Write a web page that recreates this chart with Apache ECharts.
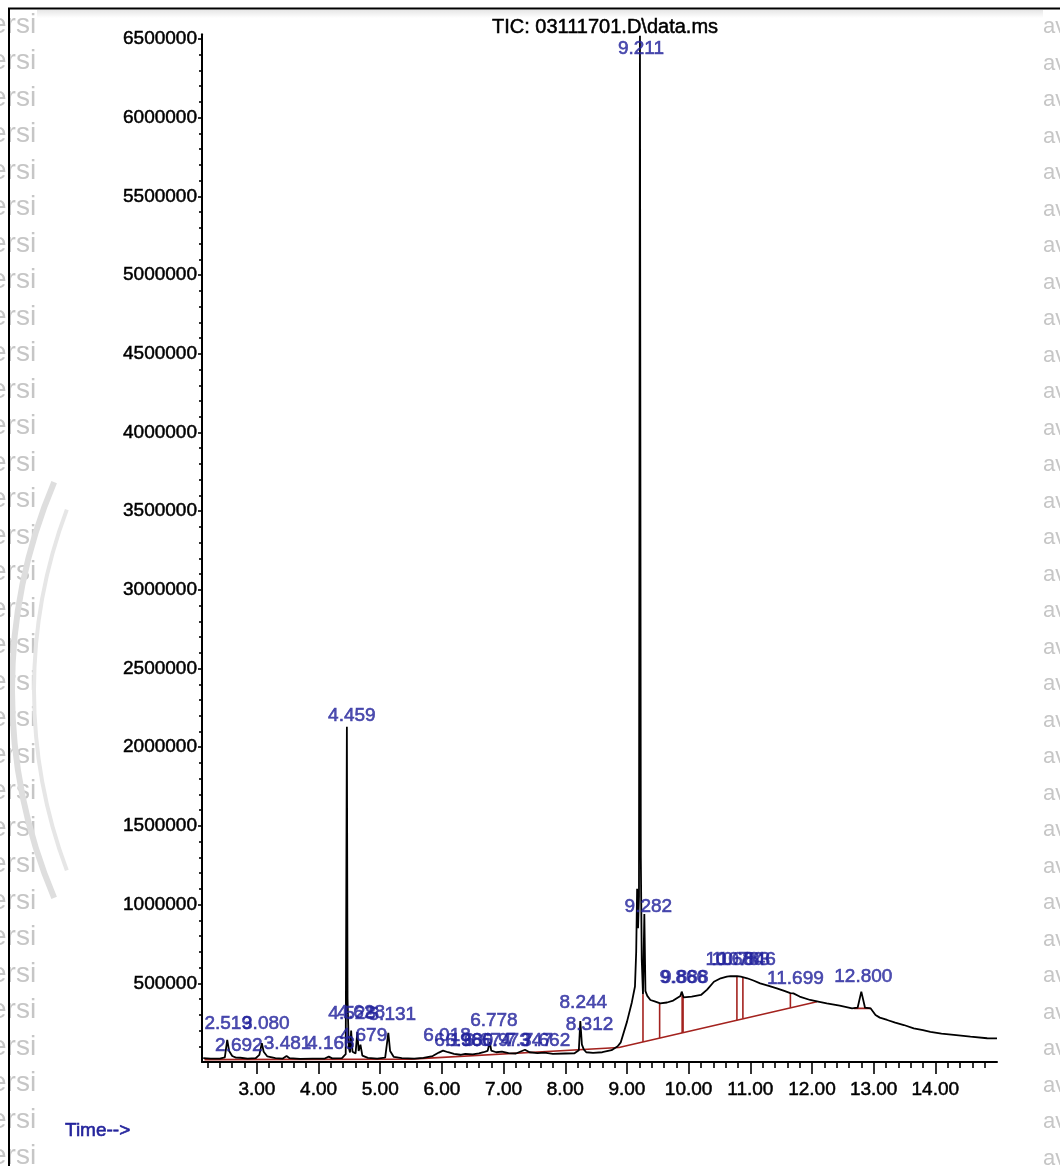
<!DOCTYPE html>
<html>
<head>
<meta charset="utf-8">
<script src="https://cdn.jsdelivr.net/npm/echarts@6/dist/echarts.min.js"></script>
<style>
  html, body { margin: 0; padding: 0; background: #fff; }
  #chart { width: 1060px; height: 1166px; }
</style>
</head>
<body>
<div id="chart"></div>
<script>
// ---- TIC trace: retention time (min) / abundance ----
const rt = [
  2.13, 2.25, 2.40, 2.48, 2.519, 2.55, 2.60, 2.66, 2.692, 2.73, 2.85, 2.98,
  3.04, 3.080, 3.11, 3.17, 3.30, 3.42, 3.481, 3.53, 3.70, 3.90, 4.10, 4.166,
  4.22, 4.38, 4.44, 4.459, 4.47, 4.49, 4.51, 4.528, 4.55, 4.60, 4.628, 4.65,
  4.679, 4.71, 4.80, 4.95, 5.08, 5.131, 5.16, 5.22, 5.35, 5.55, 5.70, 5.85,
  5.95, 6.018, 6.10, 6.196, 6.30, 6.380, 6.50, 6.60, 6.674, 6.74, 6.778, 6.80,
  6.88, 6.973, 7.08, 7.20, 7.347, 7.42, 7.55, 7.662, 7.80, 8.00, 8.15, 8.22,
  8.244, 8.27, 8.30, 8.312, 8.34, 8.45, 8.60, 8.75, 8.85, 8.90, 9.00, 9.08,
  9.13, 9.15, 9.165, 9.18, 9.195, 9.211, 9.225, 9.24, 9.26, 9.282, 9.30, 9.33,
  9.38, 9.45, 9.54, 9.65, 9.75, 9.866, 9.888, 9.92, 10.05, 10.20, 10.30, 10.41,
  10.52, 10.62, 10.680, 10.783, 10.846, 10.95, 11.05, 11.16, 11.30, 11.43, 11.55, 11.65,
  11.699, 11.80, 11.97, 12.10, 12.24, 12.45, 12.65, 12.74, 12.800, 12.86, 12.95, 13.03,
  13.10, 13.22, 13.35, 13.49, 13.65, 13.80, 13.92, 14.10, 14.30, 14.57, 14.84, 15.00
];
const tic = [
  25000, 22000, 21000, 30000, 140000, 70000, 38000, 28000, 40000, 27000, 22000, 24000,
  45000, 120000, 65000, 35000, 24000, 22000, 38000, 24000, 20000, 21000, 22000, 34000,
  23000, 24000, 50000, 2130000, 400000, 90000, 60000, 200000, 65000, 55000, 190000, 70000,
  110000, 40000, 26000, 22000, 28000, 185000, 70000, 32000, 24000, 22000, 26000, 38000,
  60000, 72000, 62000, 52000, 46000, 52000, 48000, 55000, 62000, 70000, 125000, 72000,
  62000, 66000, 56000, 54000, 78000, 62000, 56000, 60000, 52000, 54000, 55000, 75000,
  260000, 110000, 80000, 88000, 62000, 58000, 62000, 75000, 100000, 125000, 255000, 380000,
  480000, 700000, 1100000, 850000, 1050000, 6520000, 1300000, 650000, 430000, 940000, 450000, 420000,
  394000, 385000, 373000, 378000, 390000, 420000, 447000, 410000, 415000, 426000, 460000, 510000,
  532000, 542000, 545000, 546000, 542000, 532000, 518000, 500000, 484000, 468000, 452000, 438000,
  436000, 416000, 394000, 384000, 373000, 358000, 341000, 345000, 447000, 345000, 341000, 299000,
  282000, 267000, 250000, 235000, 214000, 202000, 192000, 180000, 172000, 161000, 151000, 150000
];

// ---- integrated peaks (retention times) ----
const peakRt = [
  2.519, 2.692, 3.080, 3.481, 4.166, 4.459, 4.528, 4.628, 4.679, 5.131,
  6.018, 6.196, 6.380, 6.674, 6.778, 6.973, 7.347, 7.662, 8.244, 8.312,
  9.211, 9.282, 9.866, 9.888, 10.680, 10.783, 10.846, 11.699, 12.800
];

// ---- integration baseline (null = break) ----
const baseRt  = [2.15, 5.50, 8.87, 12.08, null, 12.68, 12.95];
const baseTic = [15000, 18000, 92000, 383000, null, 341000, 341000];

// ---- drop lines at peak boundaries ----
const dropRt   = [9.26, 9.53, 9.895, 9.91, 10.783, 10.88, 11.65];
const dropBase = [127000, 152000, 185000, 186000, 266000, 275000, 344000];
const dropTop  = [430000, 373000, 440000, 420000, 546000, 539000, 438000];

// ---- axis ticks ----
const xTickLabels = [3, 4, 5, 6, 7, 8, 9, 10, 11, 12, 13, 14];
const yTickLabels = [500000, 1000000, 1500000, 2000000, 2500000, 3000000, 3500000,
                     4000000, 4500000, 5000000, 5500000, 6000000, 6500000];

// ---- layout / style ----
const FONT = "'Liberation Sans', Arial, sans-serif";
const LABEL_BLUE = '#24249c';
const BASE_RED = '#a3221e';
// label placement relative to each peak apex, px [dx, dy]
const labelOffset = [
  [1, -16], [1, -10], [4, -19], [1, -12], [2, -13], [5, -11], [1, -17], [4, -19], [3, -9], [4, -18],
  [4, -15], [4, -13], [4, -13], [4, -11], [4, -22], [4, -11], [4, -9], [2, -12], [3, -18], [5, -23],
  [1, 13], [4, -7], [3, -18], [3, -14], [4, -16], [4, -16], [6, -17], [2, -15], [2, -15]
];

const X_MIN = 2.11, X_MAX = 15.0, Y_MAX = 6530000;

const xMinor = [];
for (let k = 11; k <= 74; k++) { if (k % 5 !== 0) xMinor.push(+(k * 0.2).toFixed(1)); }
const yMinor = [];
for (let k = 1; k <= 65; k++) { if (k % 5 !== 0) yMinor.push(k * 100000); }

const traceData = rt.map((t, i) => [t, tic[i]]);
const baseData = baseRt.map((t, i) => (t === null ? [NaN, NaN] : [t, baseTic[i]]));
const dropData = [];
dropRt.forEach((t, i) => { dropData.push([t, dropBase[i]], [t, dropTop[i]], [NaN, NaN]); });
const labelData = peakRt.map((t, i) => ({
  value: [t, tic[rt.indexOf(t)]],
  label: { offset: labelOffset[i] }
}));

// page frame and edge lettering
const wmRows = [];
for (let y = 25; y < 1166; y += 36.5) wmRows.push(y);
const graphics = [];
wmRows.forEach(y => {
  graphics.push({ type: 'text', z: -20, x: -9, y: y,
    style: { text: 'ersi', fill: '#c6c6c6', font: "28px 'Liberation Sans', Arial, sans-serif", textVerticalAlign: 'middle' } });
  graphics.push({ type: 'text', z: -20, x: 1043, y: y + 2,
    style: { text: 'av', fill: '#c6c6c6', font: "22px 'Liberation Sans', Arial, sans-serif", textVerticalAlign: 'middle' } });
});
graphics.push({ type: 'rect', z: -10, shape: { x: 37, y: 10, width: 1006, height: 1156 }, style: { fill: '#ffffff' } });
graphics.push({ type: 'rect', z: -9, shape: { x: 37, y: 10, width: 1006, height: 8 },
  style: { fill: new echarts.graphic.LinearGradient(0, 0, 0, 1, [{ offset: 0, color: '#e6e6e6' }, { offset: 1, color: '#ffffff' }]) } });
graphics.push({ type: 'arc', z: -8, shape: { cx: 546, cy: 690, r: 534, startAngle: Math.PI - 0.40, endAngle: Math.PI + 0.40 },
  style: { stroke: '#dedede', lineWidth: 6, fill: null } });
graphics.push({ type: 'arc', z: -8, shape: { cx: 546, cy: 690, r: 512, startAngle: Math.PI - 0.36, endAngle: Math.PI + 0.36 },
  style: { stroke: '#e6e6e6', lineWidth: 4, fill: null } });
graphics.push({ type: 'line', z: 100, shape: { x1: 8, y1: 8.5, x2: 1060, y2: 8.5 }, style: { stroke: '#000', lineWidth: 2 } });
graphics.push({ type: 'line', z: 100, shape: { x1: 9, y1: 8, x2: 9, y2: 1166 }, style: { stroke: '#000', lineWidth: 2 } });
graphics.push({ type: 'text', z: 50, x: 65, y: 1131,
  style: { text: 'Time-->', fill: LABEL_BLUE, font: '19px ' + FONT, textVerticalAlign: 'middle',
    stroke: LABEL_BLUE, lineWidth: 0.6 } });

const chart = echarts.init(document.getElementById('chart'), null, { renderer: 'canvas' });
chart.setOption({
  backgroundColor: '#ffffff',
  animation: false,
  title: {
    text: 'TIC: 03111701.D\\data.ms',
    left: 487, top: 12,
    textStyle: { fontFamily: FONT, fontSize: 20, fontWeight: 'normal', color: '#000',
      textBorderColor: '#000', textBorderWidth: 0.5 }
  },
  grid: { left: 202, right: 63, top: 34.3, bottom: 104, containLabel: false },
  xAxis: [
    {
      type: 'value', min: X_MIN, max: X_MAX, position: 'bottom',
      axisLine: { show: true, lineStyle: { color: '#000', width: 2 } },
      axisTick: { show: true, customValues: xTickLabels, length: 12, lineStyle: { color: '#000', width: 1.6 } },
      axisLabel: { show: true, customValues: xTickLabels, margin: 18, color: '#000',
        fontFamily: FONT, fontSize: 19, textBorderColor: '#000', textBorderWidth: 0.5,
        formatter: v => v.toFixed(2) },
      splitLine: { show: false }
    },
    {
      type: 'value', min: X_MIN, max: X_MAX, position: 'bottom', offset: 0,
      axisLine: { show: false },
      axisTick: { show: true, customValues: xMinor, length: 6, lineStyle: { color: '#000', width: 1.6 } },
      axisLabel: { show: false },
      splitLine: { show: false }
    }
  ],
  yAxis: [
    {
      type: 'value', min: 0, max: Y_MAX, position: 'left',
      axisLine: { show: true, lineStyle: { color: '#000', width: 2 } },
      axisTick: { show: true, customValues: yTickLabels, length: 4, lineStyle: { color: '#000', width: 1.6 } },
      axisLabel: { show: true, customValues: yTickLabels, margin: 5, color: '#000',
        fontFamily: FONT, fontSize: 19, textBorderColor: '#000', textBorderWidth: 0.5,
        formatter: v => String(v) },
      splitLine: { show: false }
    },
    {
      type: 'value', min: 0, max: Y_MAX, position: 'left', offset: 0,
      axisLine: { show: false },
      axisTick: { show: true, customValues: yMinor, length: 3, lineStyle: { color: '#000', width: 1.6 } },
      axisLabel: { show: false },
      splitLine: { show: false }
    }
  ],
  graphic: { elements: graphics },
  series: [
    {
      name: 'baseline', type: 'line', data: baseData, showSymbol: false, connectNulls: false,
      lineStyle: { color: BASE_RED, width: 1.6 }, z: 3, silent: true
    },
    {
      name: 'drops', type: 'line', data: dropData, showSymbol: false, connectNulls: false,
      lineStyle: { color: BASE_RED, width: 1.6 }, z: 3, silent: true
    },
    {
      name: 'TIC', type: 'line', data: traceData, showSymbol: false, sampling: null,
      lineStyle: { color: '#000', width: 1.8 }, z: 4, silent: true
    },
    {
      name: 'peaks', type: 'scatter', data: labelData, symbolSize: 1,
      itemStyle: { color: 'rgba(0,0,0,0)' }, z: 5, silent: true,
      label: {
        show: true, position: 'inside', color: LABEL_BLUE,
        fontFamily: FONT, fontSize: 19, textBorderColor: LABEL_BLUE, textBorderWidth: 0.6,
        formatter: p => p.value[0].toFixed(3)
      }
    }
  ]
});
</script>
</body>
</html>
